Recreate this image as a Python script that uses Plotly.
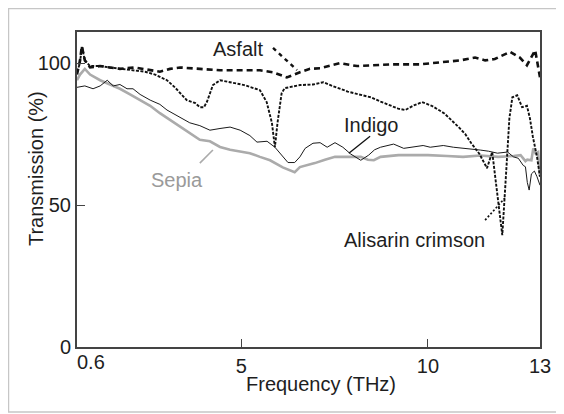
import plotly.graph_objects as go

# ---- data (frequency in THz, transmission in %) ----
asfalt_f = [0.60, 0.68, 0.73, 0.81, 0.95, 1.22, 1.48, 1.75, 2.15, 2.56, 2.82, 3.09, 3.36, 3.89,
            4.43, 4.97, 5.50, 5.85, 6.22, 6.57, 6.84, 7.11, 7.64, 8.10, 8.55, 9.00, 9.79, 10.32,
            10.86, 11.26, 11.53, 11.79, 12.20, 12.46, 12.65, 12.87, 12.95, 13.00]
asfalt_t = [96, 101, 106, 101, 98.5, 99, 98.5, 98, 98.5, 97.5, 97, 98, 98.5, 98,
            97.5, 97.5, 97.5, 96.8, 95, 96.8, 98, 98.2, 100, 99, 99.3, 99.6, 99.6, 100.4,
            101, 102, 101, 101.5, 104, 102, 99.3, 104.6, 99, 95]

alisarin_f = [0.60, 0.68, 0.73, 0.81, 0.95, 1.22, 1.48, 1.75, 2.10, 2.42, 2.69, 3.01, 3.22, 3.54,
              3.76, 3.89, 4.00, 4.08, 4.24, 4.43, 4.70, 5.08, 5.50, 5.68, 5.82, 5.90, 5.97, 6.08,
              6.16, 6.30, 6.57, 6.92, 7.20, 7.44, 7.66, 7.85, 8.15, 8.47, 8.73, 9.00, 9.20,
              9.39, 9.60, 9.84, 10.10, 10.44, 10.63, 10.82, 11.00, 11.16, 11.38, 11.52, 11.58,
              11.72, 11.80, 11.88, 11.99, 12.10, 12.18, 12.26, 12.39, 12.52, 12.65, 12.73, 12.81,
              12.92, 13.00]
alisarin_t = [97, 100, 106, 101, 99, 99, 98.5, 98, 97.5, 97, 96, 94, 91.5, 87,
              86, 84.5, 84.5, 86.4, 92.3, 94, 93.3, 92.3, 90.5, 86.3, 79, 70.4, 79, 89.4,
              91.2, 91.5, 92.3, 92.5, 93.3, 92, 91, 90, 89, 88, 86.5, 85, 84,
              83.5, 85, 86.3, 85, 82.3, 80, 77.5, 75, 71.8, 68, 64.7, 63,
              68.7, 60, 51, 39.4, 63, 80.6, 88, 88.7, 84.5, 85, 80.6, 74,
              67, 60]

indigo_f = [0.60, 0.81, 1.03, 1.22, 1.41, 1.57, 1.75, 1.94, 2.10, 2.29, 2.56, 2.82, 3.01, 3.22,
            3.62, 3.89, 4.16, 4.43, 4.70, 4.97, 5.23, 5.42, 5.69, 5.90, 6.11, 6.25, 6.43, 6.57,
            6.71, 6.92, 7.11, 7.30, 7.51, 7.72, 7.93, 8.20, 8.41, 8.57, 8.73, 9.08, 9.35, 9.60,
            9.87, 10.06, 10.41, 10.68, 11.06, 11.40, 11.62, 11.86, 12.13, 12.29, 12.42, 12.55,
            12.61, 12.66, 12.71, 12.77, 12.85, 12.92, 13.00]
indigo_t = [91.5, 92, 91, 92, 94, 92, 92.5, 91, 91, 89, 87, 85.5, 83.5, 82,
            79, 78, 76.4, 77, 77.5, 76.4, 74.5, 72.2, 72.5, 70.4, 67, 65, 65, 67,
            70, 71.8, 72, 70.4, 72, 70.4, 68, 65.8, 67.6, 69.5, 70.4, 71.5, 70, 70.5,
            71, 70.4, 71, 70.4, 70, 69.4, 69, 68.3, 68.7, 67, 66.5, 64,
            63.5, 58, 55.3, 61, 62, 60, 57]

sepia_f = [0.60, 0.68, 0.81, 0.95, 1.22, 1.48, 1.75, 2.02, 2.29, 2.56, 2.82, 3.09, 3.36, 3.62,
           3.89, 4.16, 4.43, 4.70, 4.97, 5.23, 5.50, 5.77, 6.11, 6.30, 6.43, 6.57, 6.78, 6.97,
           7.24, 7.51, 7.77, 8.20, 8.39, 8.55, 8.73, 9.21, 9.60, 10.00, 10.51, 10.94, 11.40,
           11.88, 12.29, 12.48, 12.61, 12.66, 12.77, 12.82, 12.88, 12.95, 13.00]
sepia_t = [94, 96, 98, 96, 94, 92.5, 91, 89, 87, 85, 82.4, 80, 77.5, 75.4,
           73, 72.5, 70.5, 69.5, 68.8, 68.3, 67, 65.8, 63.3, 62.3, 61.6, 63.4, 64, 64.8,
           66, 67, 67, 67, 66, 65.8, 67, 67.6, 67.6, 67.6, 67.3, 67, 67.5,
           67, 67.3, 67.6, 65.5, 66, 65.8, 70, 68.3, 68.7, 60]

x_ticks = [0.6, 5, 10, 13]
x_ticktext = ["", "5", "10", "13"]
x_first_label = "0.6"
y_ticks = [0, 50, 100]

FONT = "Liberation Sans, Arial, Helvetica, sans-serif"
TXT = "#1e1e1e"

fig = go.Figure()
fig.add_trace(go.Scatter(x=sepia_f, y=sepia_t, mode="lines", name="Sepia",
                         line=dict(color="#ababab", width=2.6)))
fig.add_trace(go.Scatter(x=indigo_f, y=indigo_t, mode="lines", name="Indigo",
                         line=dict(color="#1a1a1a", width=1)))
fig.add_trace(go.Scatter(x=alisarin_f, y=alisarin_t, mode="lines", name="Alisarin crimson",
                         line=dict(color="#111111", width=1.9, dash="3px,1.5px")))
fig.add_trace(go.Scatter(x=asfalt_f, y=asfalt_t, mode="lines", name="Asfalt",
                         line=dict(color="#111111", width=2.6, dash="6px,4px")))

# leader lines
fig.add_shape(type="line", x0=5.85, y0=105.4, x1=6.49, y1=97.6, xref="x", yref="y",
              line=dict(color="#111111", width=2.4, dash="4px,4px"))
fig.add_shape(type="line", x0=8.45, y0=74.3, x1=7.88, y1=68.3, xref="x", yref="y",
              line=dict(color="#111111", width=1.3))
fig.add_shape(type="line", x0=3.89, y0=64.8, x1=4.24, y1=69.4, xref="x", yref="y",
              line=dict(color="#ababab", width=1.6))
fig.add_shape(type="line", x0=11.53, y0=44.7, x1=12.06, y1=52.5, xref="x", yref="y",
              line=dict(color="#111111", width=1.7, dash="2px,2px"))

# outer frame
fig.add_shape(type="rect", xref="paper", yref="paper",
              x0=-0.148, x1=1.0497, y0=-0.2063, y1=1.0746,
              line=dict(color="#c6c6c6", width=1.5), fillcolor="rgba(0,0,0,0)", layer="below")

labels = [
    dict(x=4.90, y=105, text="Asfalt", color=TXT),
    dict(x=8.50, y=78.2, text="Indigo", color=TXT),
    dict(x=3.29, y=58.8, text="Sepia", color="#9a9a9a"),
    dict(x=9.64, y=37.7, text="Alisarin crimson", color=TXT),
]
for lb in labels:
    fig.add_annotation(x=lb["x"], y=lb["y"], xref="x", yref="y", text=lb["text"],
                       xanchor="center", yanchor="middle",
                       showarrow=False, font=dict(family=FONT, size=20, color=lb["color"]))

# first x tick label (offset to the right of its tick, as in the original)
fig.add_annotation(x=x_ticks[0], y=-0.0476, xref="x", yref="paper", text=x_first_label,
                   xanchor="left", yanchor="middle", xshift=-2,
                   showarrow=False, font=dict(family=FONT, size=20, color=TXT))

# axis titles
fig.add_annotation(x=0.527, y=-0.117, xref="paper", yref="paper", text="Frequency (THz)",
                   xanchor="center", yanchor="middle",
                   showarrow=False, font=dict(family=FONT, size=20, color=TXT))
fig.add_annotation(x=-0.0886, y=0.568, xref="paper", yref="paper", text="Transmission (%)",
                   xanchor="center", yanchor="middle",
                   textangle=-90, showarrow=False, font=dict(family=FONT, size=20, color=TXT))

fig.update_layout(
    width=556, height=406,
    margin=dict(l=69, r=24, t=24, b=67),
    paper_bgcolor="white", plot_bgcolor="white",
    showlegend=False,
    font=dict(family=FONT, size=20, color=TXT),
    xaxis=dict(range=[0.6, 13], tickvals=x_ticks, ticktext=x_ticktext,
               ticks="inside", ticklen=8, tickwidth=1.3, tickcolor="#444",
               showgrid=False, zeroline=False, showline=True, linecolor="#444",
               linewidth=2, mirror=True),
    yaxis=dict(range=[0, 111], tickvals=y_ticks, ticks="inside", ticklen=8,
               tickwidth=1.3, tickcolor="#444", showgrid=False, zeroline=False,
               showline=True, linecolor="#444", linewidth=2, mirror=True),
)

fig.write_html("out.html")
